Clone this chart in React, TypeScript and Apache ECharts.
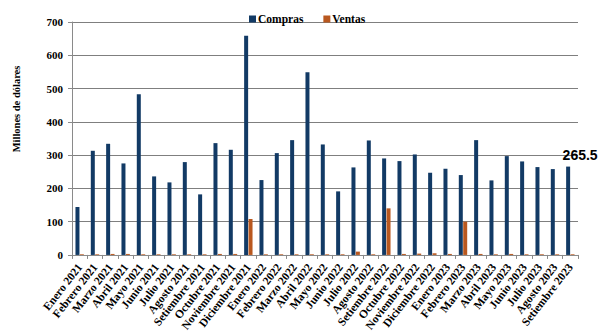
import React, { useEffect, useRef } from "react";
import * as echarts from "echarts";

const months = [
  "Enero 2021", "Febrero 2021", "Marzo 2021", "Abril 2021", "Mayo 2021", "Junio 2021",
  "Julio 2021", "Agosto 2021", "Setiembre 2021", "Octubre 2021", "Noviembre 2021", "Diciembre 2021",
  "Enero 2022", "Febrero 2022", "Marzo 2022", "Abril 2022", "Mayo 2022", "Junio 2022",
  "Julio 2022", "Agosto 2022", "Setiembre 2022", "Octubre 2022", "Noviembre 2022", "Diciembre 2022",
  "Enero 2023", "Febrero 2023", "Marzo 2023", "Abril 2023", "Mayo 2023", "Junio 2023",
  "Julio 2023", "Agosto 2023", "Setiembre 2023",
];

const compras = [
  144, 313, 334, 275, 483, 236, 218, 279, 182, 336, 316, 659,
  225, 306, 345, 549, 332, 191, 263, 344, 290, 282, 302, 247,
  259, 240, 345, 224, 297, 281, 264, 258, 265.5,
];

const ventas = [
  2, 2, 3, 3, 2, 2, 2, 2, 2, 3, 3, 108,
  2, 2, 2, 2, 2, 2, 10, 2, 140, 3, 4, 5,
  3, 100, 3, 2, 3, 2, 2, 2, 2,
];

const yTicks = [0, 100, 200, 300, 400, 500, 600, 700];

const SERIF = "'Liberation Serif', 'DejaVu Serif', serif";

export default function App() {
  const ref = useRef<HTMLDivElement>(null);

  useEffect(() => {
    document.body.style.margin = "0";
    if (!ref.current) return;
    const chart = echarts.init(ref.current, null, { renderer: "svg" });
    const last = compras.length - 1;
    chart.setOption({
      animation: false,
      backgroundColor: "#ffffff",
      legend: {
        top: 8,
        left: 244,
        itemWidth: 7,
        itemHeight: 7,
        itemGap: 20,
        icon: "rect",
        textStyle: { fontFamily: SERIF, fontWeight: "bold", fontSize: 11.5, color: "#000", padding: [0, 0, 0, -3] },
        data: ["Compras", "Ventas"],
      },
      graphic: [
        {
          type: "text",
          x: 16,
          y: 109,
          rotation: Math.PI / 2,
          style: {
            text: "Millones de dólares",
            fontFamily: SERIF,
            fontWeight: "bold",
            fontSize: 10.5,
            fill: "#000",
            align: "center",
            verticalAlign: "middle",
          },
        },
      ],
      grid: { left: 72, right: 20, top: 22, bottom: 79, containLabel: false },
      xAxis: {
        type: "category",
        data: months,
        axisLine: { lineStyle: { color: "#8a8a8a", width: 1 } },
        axisTick: { show: true, length: 4, alignWithLabel: false, lineStyle: { color: "#8a8a8a" } },
        axisLabel: {
          rotate: 52,
          interval: 0,
          margin: 10,
          fontFamily: SERIF,
          fontWeight: "bold",
          fontSize: 11.5,
          color: "#000",
        },
      },
      yAxis: {
        type: "value",
        min: yTicks[0],
        max: yTicks[yTicks.length - 1],
        interval: 100,
        axisLine: { show: true, lineStyle: { color: "#8a8a8a" } },
        axisTick: { show: true, length: 4, lineStyle: { color: "#8a8a8a" } },
        splitLine: { lineStyle: { color: "#7f7f7f", width: 1 } },
        axisLabel: {
          margin: 9,
          fontFamily: SERIF,
          fontWeight: "bold",
          fontSize: 11,
          color: "#000",
        },
      },
      series: [
        {
          name: "Compras",
          type: "bar",
          barWidth: 4,
          barGap: "10%",
          itemStyle: { color: "#123a65" },
          data: compras.map((v, i) =>
            i === last
              ? {
                  value: v,
                  label: {
                    show: true,
                    position: "top",
                    offset: [12, 0],
                    formatter: String(v),
                    fontFamily: "'Liberation Sans', Arial, sans-serif",
                    fontWeight: "bold",
                    fontSize: 14,
                    color: "#000",
                  },
                }
              : v
          ),
        },
        {
          name: "Ventas",
          type: "bar",
          barWidth: 4,
          itemStyle: { color: "#b9581f" },
          data: ventas,
        },
      ],
    });
    return () => chart.dispose();
  }, []);

  return <div ref={ref} style={{ width: 598, height: 334 }} />;
}
